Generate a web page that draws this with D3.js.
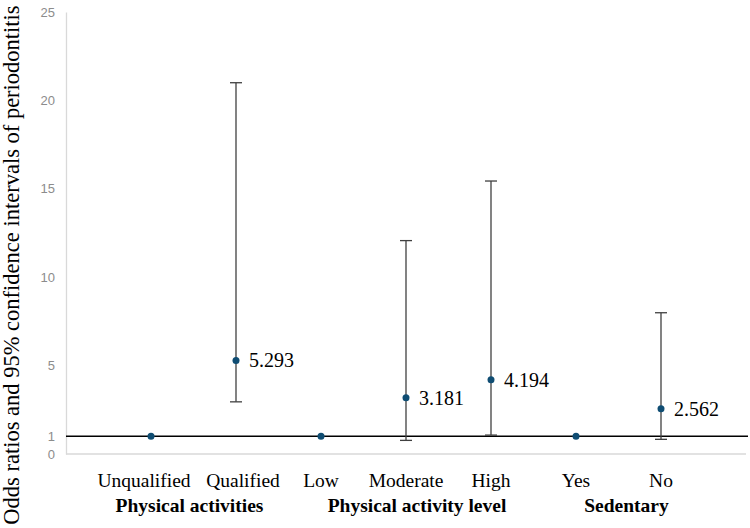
<!DOCTYPE html>
<html>
<head>
<meta charset="utf-8">
<script src="https://cdn.jsdelivr.net/npm/d3@7"></script>
<style>
  body { margin: 0; background: #fff; }
  svg { display: block; }
</style>
</head>
<body>
<div id="chart"></div>
<script>
// data
var categories = ["Unqualified", "Qualified", "Low", "Moderate", "High", "Yes", "No"];
var oddsRatio = [1, 5.293, 1, 3.181, 4.194, 1, 2.562];
var ciLow = [null, 2.95, null, 0.77, 1.07, null, 0.83];
var ciHigh = [null, 21.0, null, 12.07, 15.44, null, 7.99];
var groupNames = ["Physical activities", "Physical activity level", "Sedentary"];
var groupFirst = [0, 2, 5];
var groupLast = [1, 4, 6];
var yTicks = [0, 1, 5, 10, 15, 20, 25];

var width = 750, height = 528;
var serif = "'Liberation Serif', 'Times New Roman', serif";

var svg = d3.select("#chart")
    .append("svg")
    .attr("width", width)
    .attr("height", height);

// x is a plain value axis 0..8, categories sit on 1..7
var x = d3.scaleLinear().domain([0, 8]).range([66, 746]);
var y = d3.scaleLinear().domain([0, 25]).range([454, 12]);

// y axis, light gray line, no tick marks
var yAxis = svg.append("g")
    .attr("transform", "translate(" + x(0) + ",0)")
    .call(d3.axisLeft(y).tickValues(yTicks).tickSize(0).tickPadding(11));
yAxis.select(".domain").attr("stroke", "#d9d9d9").attr("stroke-width", 1.3);
yAxis.selectAll("text")
    .attr("fill", "#8c8c8c")
    .style("font-family", "'Liberation Sans', Arial, sans-serif")
    .style("font-size", "13px");

// bottom baseline
svg.append("line")
    .attr("x1", x(0)).attr("x2", x(8))
    .attr("y1", y(0)).attr("y2", y(0))
    .attr("stroke", "#d9d9d9").attr("stroke-width", 1.3);

// reference line at OR = 1
svg.append("line")
    .attr("x1", x(0)).attr("x2", 748)
    .attr("y1", y(1)).attr("y2", y(1))
    .attr("stroke", "#000").attr("stroke-width", 1.6);

var rows = categories.map(function(c, i) {
  return { name: c, pos: i + 1, or: oddsRatio[i], lo: ciLow[i], hi: ciHigh[i] };
});
var withCi = rows.filter(function(d) { return d.lo != null; });

// error bars
var bars = svg.append("g").selectAll("g")
    .data(withCi)
    .enter()
    .append("g")
    .attr("stroke", "#404040")
    .attr("stroke-width", 1.3);

bars.append("line")
    .attr("x1", function(d) { return x(d.pos); })
    .attr("x2", function(d) { return x(d.pos); })
    .attr("y1", function(d) { return y(d.lo); })
    .attr("y2", function(d) { return y(d.hi); });

bars.append("line")
    .attr("x1", function(d) { return x(d.pos) - 6; })
    .attr("x2", function(d) { return x(d.pos) + 6; })
    .attr("y1", function(d) { return y(d.hi); })
    .attr("y2", function(d) { return y(d.hi); });

bars.append("line")
    .attr("x1", function(d) { return x(d.pos) - 6; })
    .attr("x2", function(d) { return x(d.pos) + 6; })
    .attr("y1", function(d) { return y(d.lo); })
    .attr("y2", function(d) { return y(d.lo); });

// points
svg.append("g").selectAll("circle")
    .data(rows)
    .enter()
    .append("circle")
    .attr("cx", function(d) { return x(d.pos); })
    .attr("cy", function(d) { return y(d.or); })
    .attr("r", 3.5)
    .attr("fill", "#0f4d73");

// value labels
svg.append("g").selectAll("text")
    .data(withCi)
    .enter()
    .append("text")
    .attr("x", function(d) { return x(d.pos) + 13; })
    .attr("y", function(d) { return y(d.or); })
    .attr("dy", "0.35em")
    .style("font-family", serif)
    .style("font-size", "20px")
    .text(function(d) { return d.or.toFixed(3); });

// category labels (first pair sits a little apart in the original)
var labelShift = [-7, 7, 0, 0, 0, 0, 0];
svg.append("g").selectAll("text")
    .data(rows)
    .enter()
    .append("text")
    .attr("x", function(d, i) { return x(d.pos) + labelShift[i]; })
    .attr("y", 487)
    .attr("text-anchor", "middle")
    .style("font-family", serif)
    .style("font-size", "19.5px")
    .text(function(d) { return d.name; });

// group labels
var groupShift = [-4, 11, 8];
svg.append("g").selectAll("text")
    .data(groupNames)
    .enter()
    .append("text")
    .attr("x", function(d, i) { return (x(groupFirst[i] + 1) + x(groupLast[i] + 1)) / 2 + groupShift[i]; })
    .attr("y", 512)
    .attr("text-anchor", "middle")
    .style("font-family", serif)
    .style("font-size", "19.5px")
    .style("font-weight", "bold")
    .text(function(d) { return d; });

// y axis title
svg.append("text")
    .attr("transform", "translate(19," + 265 + ") rotate(-90)")
    .attr("text-anchor", "middle")
    .style("font-family", serif)
    .style("font-size", "22.5px")
    .text("Odds ratios and 95% confidence intervals of periodontitis");
</script>
</body>
</html>
